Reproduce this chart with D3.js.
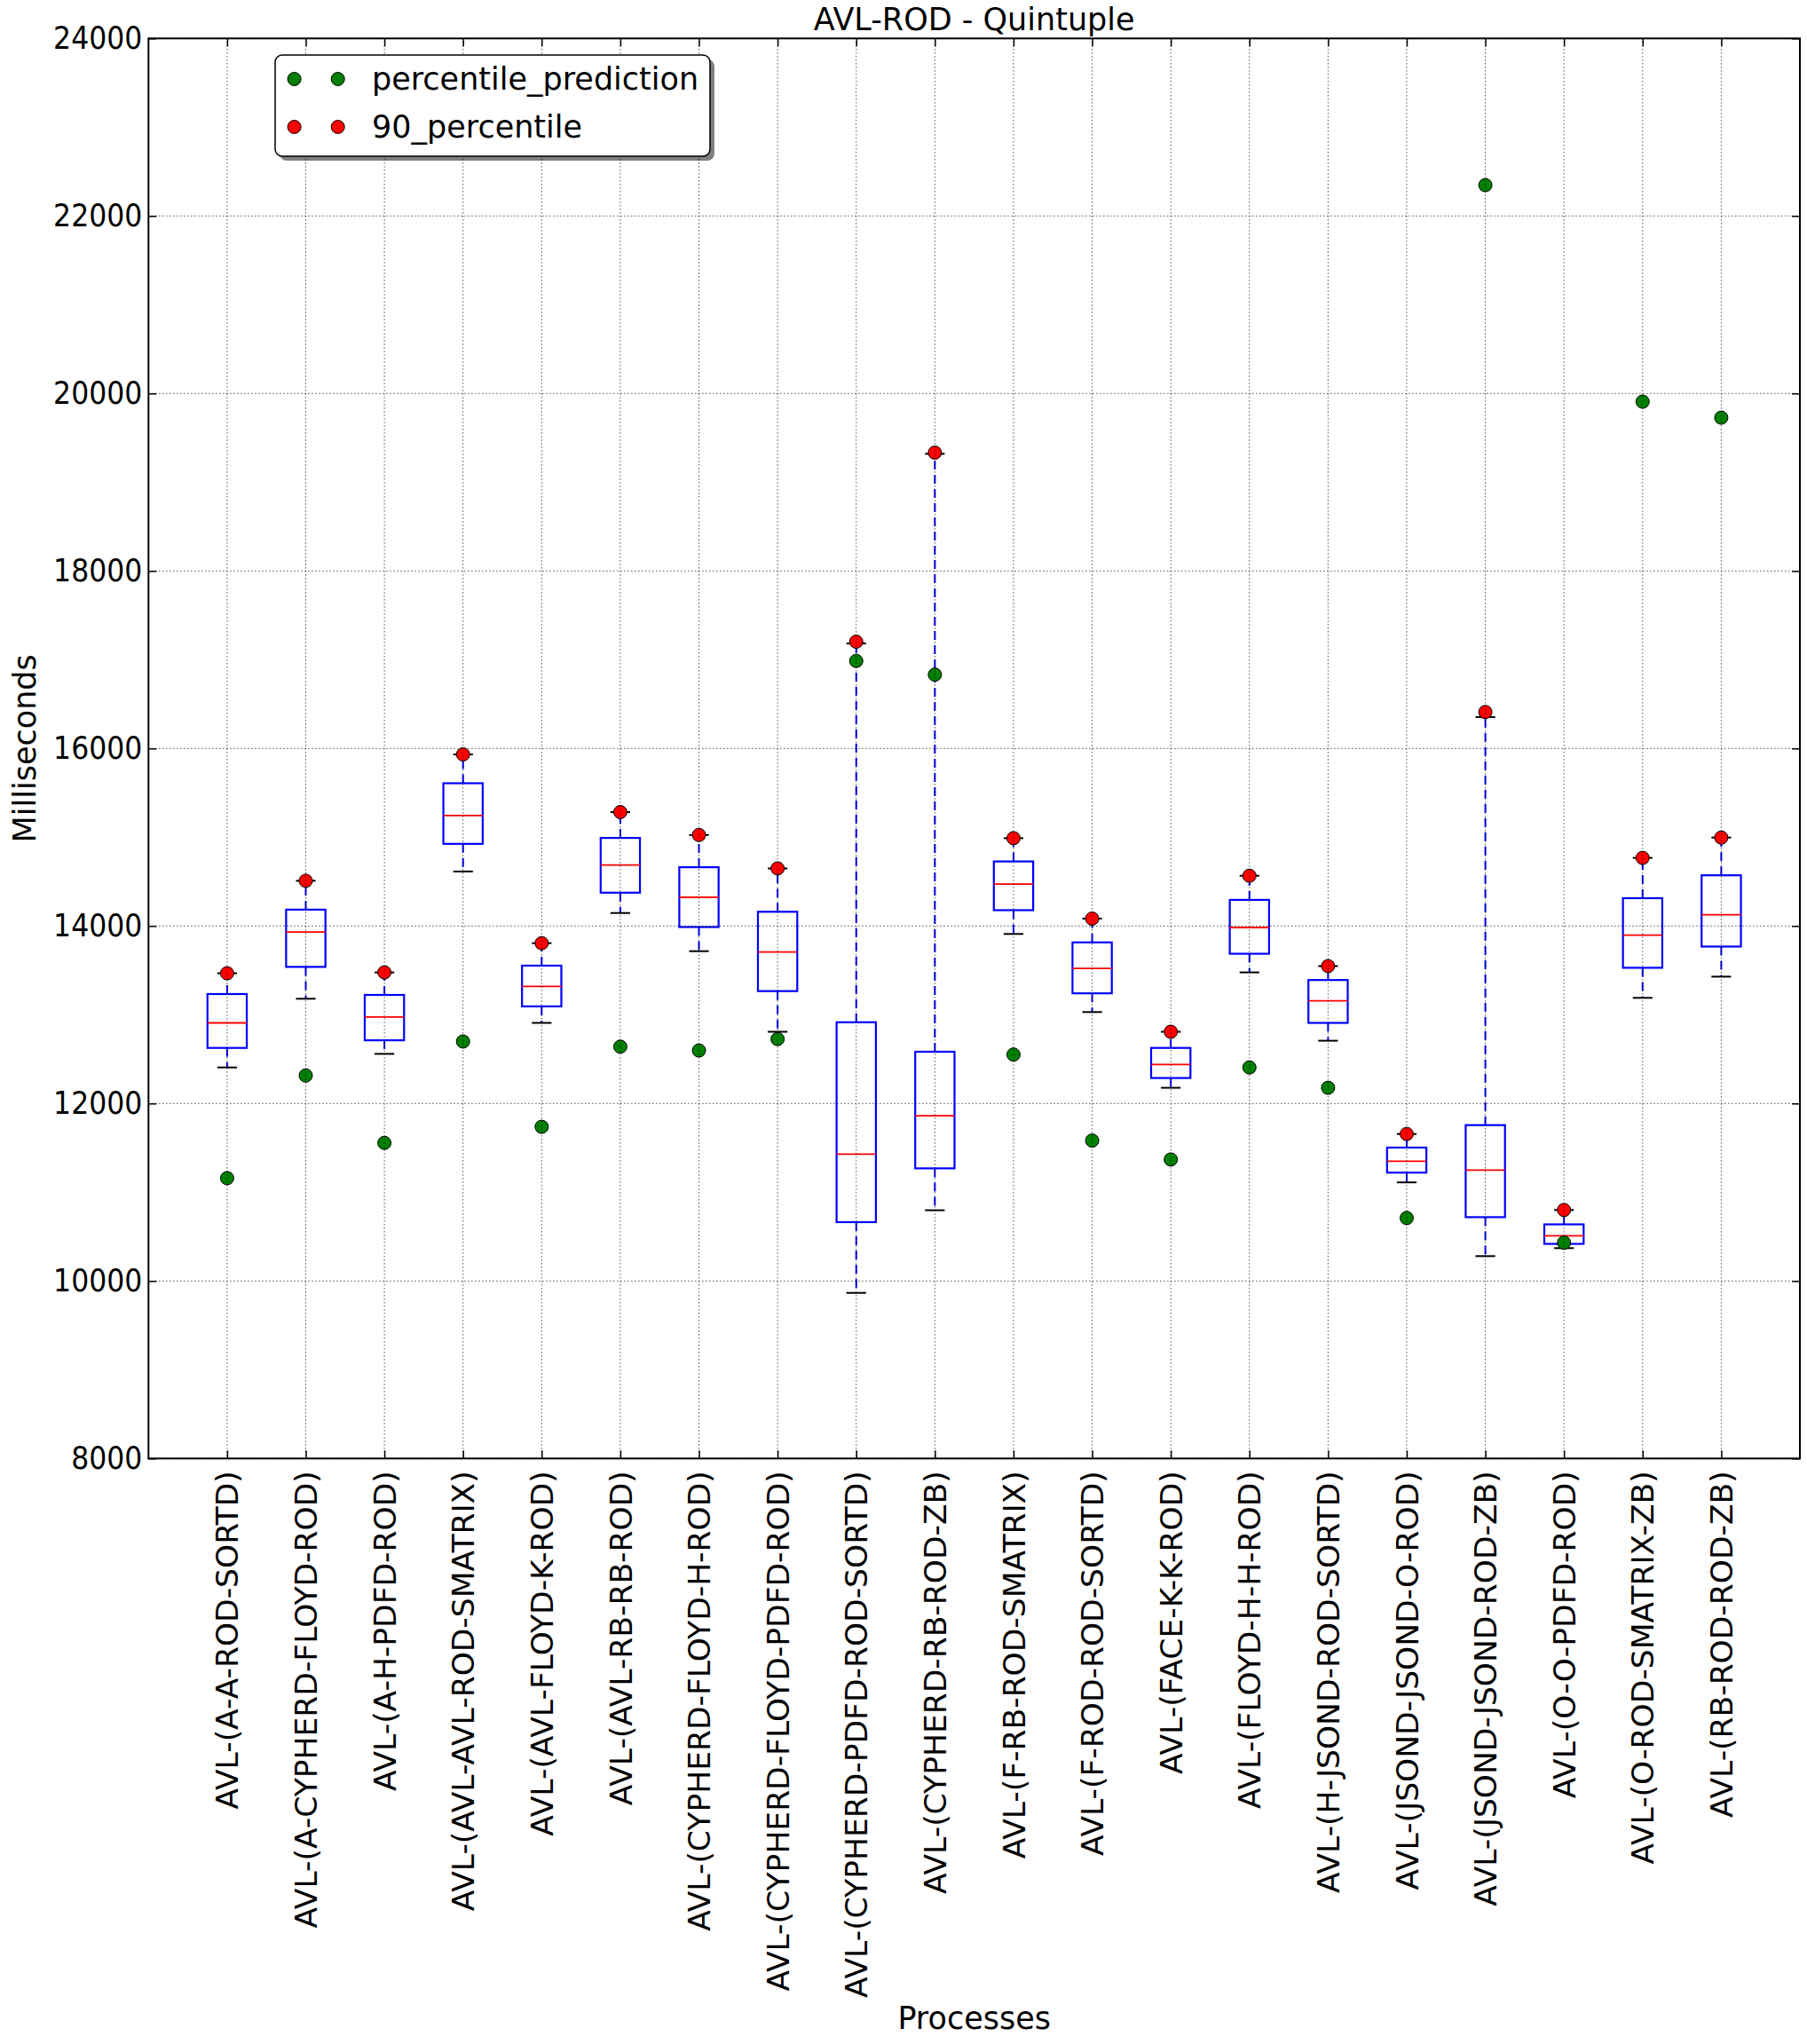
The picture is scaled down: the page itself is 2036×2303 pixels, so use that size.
<!DOCTYPE html>
<html>
<head>
<meta charset="utf-8">
<script src="https://cdn.jsdelivr.net/npm/d3@7"></script>
<style>
  html, body { margin: 0; padding: 0; background: #fff; }
  svg { display: block; font-family: "DejaVu Sans", sans-serif; }
</style>
</head>
<body>
<svg id="chart" width="2036" height="2303"></svg>
<script>
const categories = [
  "AVL-(A-A-ROD-SORTD)", "AVL-(A-CYPHERD-FLOYD-ROD)", "AVL-(A-H-PDFD-ROD)",
  "AVL-(AVL-AVL-ROD-SMATRIX)", "AVL-(AVL-FLOYD-K-ROD)", "AVL-(AVL-RB-RB-ROD)",
  "AVL-(CYPHERD-FLOYD-H-ROD)", "AVL-(CYPHERD-FLOYD-PDFD-ROD)", "AVL-(CYPHERD-PDFD-ROD-SORTD)",
  "AVL-(CYPHERD-RB-ROD-ZB)", "AVL-(F-RB-ROD-SMATRIX)", "AVL-(F-ROD-ROD-SORTD)",
  "AVL-(FACE-K-K-ROD)", "AVL-(FLOYD-H-H-ROD)", "AVL-(H-JSOND-ROD-SORTD)",
  "AVL-(JSOND-JSOND-O-ROD)", "AVL-(JSOND-JSOND-ROD-ZB)", "AVL-(O-O-PDFD-ROD)",
  "AVL-(O-ROD-SMATRIX-ZB)", "AVL-(RB-ROD-ROD-ZB)"
];
const whiskerLow  = [12406, 13180, 12559, 14614, 12908, 14146, 13716, 12808, 9866, 10797, 13910, 13030, 12177, 13477, 12707, 11111, 10280, 10370, 13190, 13429];
const q1          = [12626, 13539, 12712, 14925, 13094, 14375, 13988, 13266, 10663, 11269, 14178, 13241, 12287, 13687, 12908, 11221, 10719, 10418, 13529, 13768];
const median      = [12908, 13931, 12975, 15245, 13319, 14686, 14323, 13706, 11429, 11862, 14472, 13521, 12440, 13983, 13157, 11350, 11250, 10509, 13897, 14127];
const q3          = [13233, 14184, 13223, 15608, 13553, 14992, 14662, 14160, 12915, 12583, 14727, 13815, 12626, 14294, 13391, 11503, 11756, 10638, 14313, 14571];
const whiskerHigh = [13467, 14509, 13477, 15933, 13806, 15283, 15025, 14648, 17183, 19320, 14989, 14083, 12808, 14566, 13548, 11656, 16354, 10800, 14767, 14996];
const percentilePrediction = [11159, 12315, 11556, 12698, 11737, 12640, 12597, 12726, 16986, 16832, 12551, 11582, 11369, 12406, 12177, 10710, 22347, 10432, 19907, 19727];
const percentile90 = [13467, 14509, 13477, 15933, 13806, 15283, 15025, 14648, 17203, 19333, 14989, 14083, 12808, 14566, 13548, 11656, 16411, 10800, 14767, 14996];
const yTicks = [8000, 10000, 12000, 14000, 16000, 18000, 20000, 22000, 24000];
const legendLabels = ["percentile_prediction", "90_percentile"];

const title = "AVL-ROD - Quintuple";
const xLabel = "Processes";
const yLabel = "Milliseconds";

const margin = { left: 167.3, top: 43.3, right: 2028, bottom: 1643.3 };
const FS = 35;
const FS_XT = 34.5;
const FS_YT = 31.5;

const svg = d3.select("#chart");

const x = d3.scaleLinear().domain([0, categories.length + 1]).range([margin.left, margin.right]);
const y = d3.scaleLinear().domain([8000, 24000]).range([margin.bottom, margin.top]);

const data = categories.map((c, i) => ({
  name: c, pos: i + 1,
  lo: whiskerLow[i], q1: q1[i], med: median[i], q3: q3[i], hi: whiskerHigh[i],
  pred: percentilePrediction[i], p90: percentile90[i]
}));

const unit = x(1) - x(0);
const boxW = 0.5 * unit;
const capW = 0.25 * unit;

const plot = svg.append("g");

// whiskers
plot.selectAll(".wh-hi").data(data).enter().append("line")
  .attr("x1", d => x(d.pos)).attr("x2", d => x(d.pos))
  .attr("y1", d => y(d.q3)).attr("y2", d => y(d.hi))
  .attr("stroke", "#0000ff").attr("stroke-width", 2).attr("stroke-dasharray", "10,6");
plot.selectAll(".wh-lo").data(data).enter().append("line")
  .attr("x1", d => x(d.pos)).attr("x2", d => x(d.pos))
  .attr("y1", d => y(d.q1)).attr("y2", d => y(d.lo))
  .attr("stroke", "#0000ff").attr("stroke-width", 2).attr("stroke-dasharray", "10,6");
// caps
["hi", "lo"].forEach(k => {
  plot.selectAll(".cap-" + k).data(data).enter().append("line")
    .attr("x1", d => x(d.pos) - capW / 2).attr("x2", d => x(d.pos) + capW / 2)
    .attr("y1", d => y(d[k])).attr("y2", d => y(d[k]))
    .attr("stroke", "#000").attr("stroke-width", 2);
});
// boxes
plot.selectAll(".box").data(data).enter().append("rect")
  .attr("x", d => x(d.pos) - boxW / 2).attr("width", boxW)
  .attr("y", d => y(d.q3)).attr("height", d => y(d.q1) - y(d.q3))
  .attr("fill", "none").attr("stroke", "#0000ff").attr("stroke-width", 2.2);
// medians
plot.selectAll(".med").data(data).enter().append("line")
  .attr("x1", d => x(d.pos) - boxW / 2).attr("x2", d => x(d.pos) + boxW / 2)
  .attr("y1", d => y(d.med)).attr("y2", d => y(d.med))
  .attr("stroke", "#ff0000").attr("stroke-width", 1.8);

// points
const R = 7.5;
plot.selectAll(".pred").data(data).enter().append("circle")
  .attr("cx", d => x(d.pos)).attr("cy", d => y(d.pred)).attr("r", R)
  .attr("fill", "#008000").attr("stroke", "#000").attr("stroke-width", 1);
plot.selectAll(".p90").data(data).enter().append("circle")
  .attr("cx", d => x(d.pos)).attr("cy", d => y(d.p90)).attr("r", R)
  .attr("fill", "#ff0000").attr("stroke", "#000").attr("stroke-width", 1);

// grid (drawn above data, as in the reference)
const grid = svg.append("g");
grid.selectAll(".gy").data(yTicks).enter().append("line")
  .attr("x1", margin.left).attr("x2", margin.right)
  .attr("y1", d => y(d)).attr("y2", d => y(d))
  .attr("stroke", "#000").attr("stroke-width", 1).attr("stroke-dasharray", "1.2,2.8").attr("opacity", 0.85);
grid.selectAll(".gx").data(data).enter().append("line")
  .attr("x1", d => x(d.pos)).attr("x2", d => x(d.pos))
  .attr("y1", margin.top).attr("y2", margin.bottom)
  .attr("stroke", "#000").attr("stroke-width", 1).attr("stroke-dasharray", "1.2,2.8").attr("opacity", 0.85);

// axes with inward ticks
const TL = 9;
const yAxisL = d3.axisLeft(y).tickValues(yTicks).tickSizeInner(-TL).tickSizeOuter(0).tickPadding(7).tickFormat(d3.format("d"));
const gyL = svg.append("g").attr("transform", `translate(${margin.left},0)`).call(yAxisL);
gyL.select(".domain").remove();
gyL.selectAll("text").attr("font-size", FS_YT).attr("fill", "#000").attr("font-family", "DejaVu Sans")
  .attr("transform", "scale(1,1.1)");
gyL.selectAll("line").attr("stroke", "#000").attr("stroke-width", 1.5);

const yAxisR = d3.axisRight(y).tickValues(yTicks).tickSizeInner(-TL).tickSizeOuter(0).tickFormat("");
const gyR = svg.append("g").attr("transform", `translate(${margin.right},0)`).call(yAxisR);
gyR.select(".domain").remove();
gyR.selectAll("line").attr("stroke", "#000").attr("stroke-width", 1.5);

const xAxisB = d3.axisBottom(x).tickValues(data.map(d => d.pos)).tickSizeInner(-TL).tickSizeOuter(0)
  .tickFormat((d) => categories[d - 1]);
const gxB = svg.append("g").attr("transform", `translate(0,${margin.bottom})`).call(xAxisB);
gxB.select(".domain").remove();
gxB.selectAll("line").attr("stroke", "#000").attr("stroke-width", 1.5);
gxB.selectAll("text")
  .attr("font-size", FS_XT).attr("fill", "#000").attr("font-family", "DejaVu Sans")
  .attr("text-anchor", "end")
  .attr("transform", "rotate(-90)")
  .attr("x", -14).attr("y", 0).attr("dy", "0.35em");

const xAxisT = d3.axisTop(x).tickValues(data.map(d => d.pos)).tickSizeInner(-TL).tickSizeOuter(0).tickFormat("");
const gxT = svg.append("g").attr("transform", `translate(0,${margin.top})`).call(xAxisT);
gxT.select(".domain").remove();
gxT.selectAll("line").attr("stroke", "#000").attr("stroke-width", 1.5);

// frame
svg.append("rect")
  .attr("x", margin.left).attr("y", margin.top)
  .attr("width", margin.right - margin.left).attr("height", margin.bottom - margin.top)
  .attr("fill", "none").attr("stroke", "#000").attr("stroke-width", 2);

// title and labels
svg.append("text").attr("x", (margin.left + margin.right) / 2).attr("y", 34)
  .attr("text-anchor", "middle").attr("font-size", FS).text(title);
svg.append("text").attr("x", (margin.left + margin.right) / 2).attr("y", 2286)
  .attr("text-anchor", "middle").attr("font-size", FS).text(xLabel);
svg.append("text").attr("transform", `translate(28,${(margin.top + margin.bottom) / 2}) rotate(-90)`)
  .attr("text-anchor", "middle").attr("dy", "0.35em").attr("font-size", FS).text(yLabel);

// legend
const lg = svg.append("g");
const lx = 310, ly = 62, lw = 490, lh = 114;
lg.append("rect").attr("x", lx + 5).attr("y", ly + 5).attr("width", lw).attr("height", lh)
  .attr("rx", 8).attr("fill", "rgba(0,0,0,0.5)");
lg.append("rect").attr("x", lx).attr("y", ly).attr("width", lw).attr("height", lh)
  .attr("rx", 8).attr("fill", "#fff").attr("stroke", "#000").attr("stroke-width", 1.5);
const legendColors = ["#008000", "#ff0000"];
legendLabels.forEach((lab, i) => {
  const yy = ly + 27 + i * 54;
  [331.6, 380.7].forEach(mx => {
    lg.append("circle").attr("cx", mx).attr("cy", yy).attr("r", R)
      .attr("fill", legendColors[i]).attr("stroke", "#000").attr("stroke-width", 1);
  });
  lg.append("text").attr("x", 419).attr("y", yy).attr("dy", "0.35em")
    .attr("font-size", FS).text(lab);
});
</script>
</body>
</html>
